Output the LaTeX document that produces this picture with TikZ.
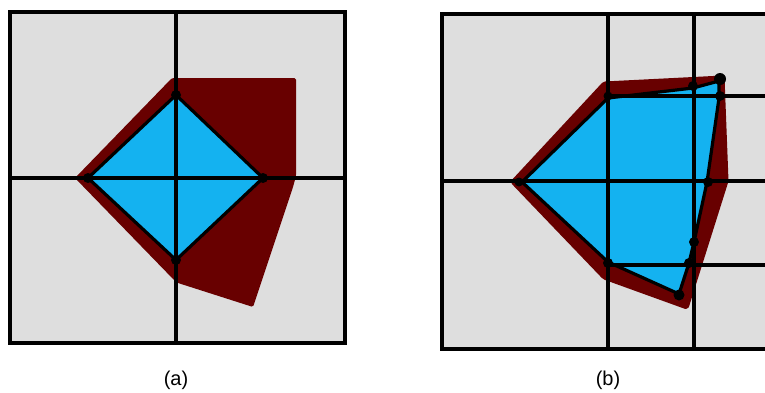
\documentclass[tikz,border=0pt]{standalone}
\usepackage{fontspec}
\setmainfont{Liberation Sans}
\definecolor{cellgray}{RGB}{222,222,222}
\definecolor{fillblue}{RGB}{20,178,240}
\definecolor{maroon}{RGB}{104,0,0}
\begin{document}
\begin{tikzpicture}[x=1pt,y=-1pt,
  grid/.style={line width=4.5pt,black},
  border/.style={line width=4.8pt,black},
  shell/.style={fill=maroon,rounded corners=1.5pt},
  core/.style={fill=fillblue,draw=black,line width=3.2pt,line join=round},
  dot/.style={fill=black},
  captext/.style={font=\fontsize{20}{24}\selectfont}]
\useasboundingbox (0,0) rectangle (765,392);
\clip (0,0) rectangle (765,392);
% ---------- panel (a)
\fill[cellgray] (10,12) rectangle (345,343);
\fill[shell] (75,178) -- (172,78) -- (296,78) -- (296,176) -- (293,187) -- (253,307) -- (178,283) -- (175,281) -- cycle;
\draw[core] (176,95) -- (263,178) -- (176,260) -- (88,178) -- cycle;
\draw[grid] (176,12) -- (176,343);
\draw[grid] (10,178) -- (345,178);
\draw[border] (10,12) rectangle (345,343);
\foreach \p in {(176,95),(263,178),(176,260),(88,178)} \fill[dot] \p circle (5);
\node[captext] (la) at (176,380) {(a)};
% ---------- panel (b)
\fill[cellgray] (442,14) rectangle (790,349);
\filldraw[shell,draw=maroon,line width=3pt,line join=round] (512,182) -- (604,83) -- (723,77) -- (727,181) -- (687,308) -- (604,278) -- cycle;
\draw[core] (522,182) -- (608,98) -- (693,88) -- (719,81) -- (719,98) -- (707,182) -- (694,242) -- (689,263) -- (679,294) -- (608,262) -- cycle;
\draw[grid] (608,14) -- (608,349);
\draw[grid] (694,14) -- (694,349);
\draw[grid] (442,181) -- (790,181);
\draw[grid] (608,96) -- (790,96);
\draw[grid] (608,265) -- (790,265);
\draw[border] (442,14) rectangle (790,349);
\foreach \p/\r in {(608,96)/4.5,(693,86)/5,(720,79)/6,(720,96)/5,(708,182)/5,(694,242)/5,(689,263)/5,(679,295)/5.5,(608,263)/5,(519,182)/4.5}
  \fill[dot] \p circle (\r);
\node[captext] (lb) at (608,380) {(b)};
\end{tikzpicture}
\end{document}
